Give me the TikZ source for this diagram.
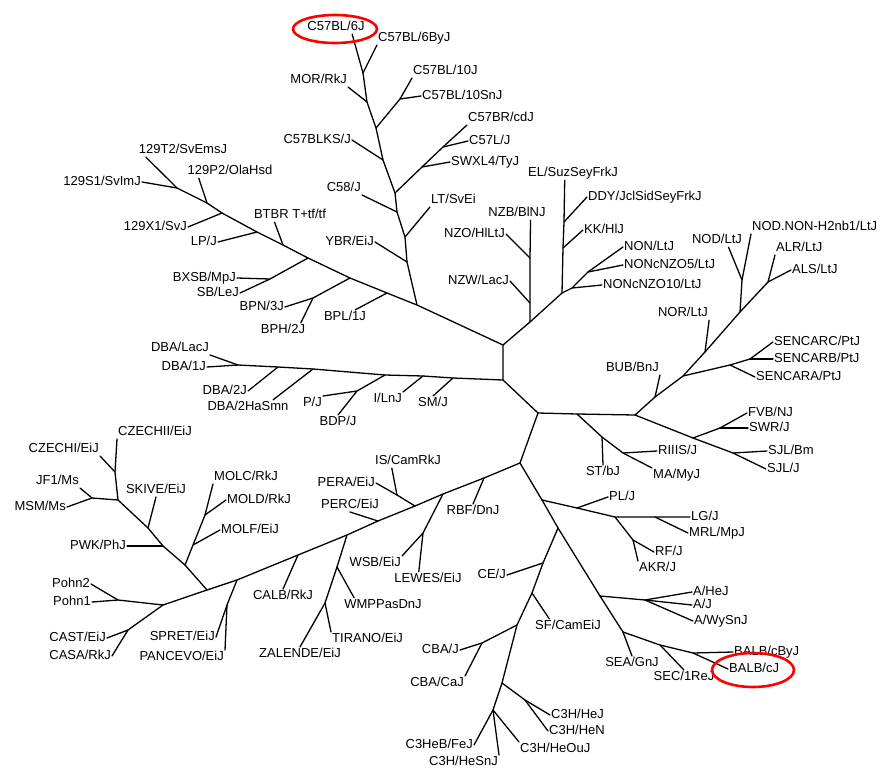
\documentclass[tikz,border=0pt]{standalone}
\usepackage{fontspec}
\setmainfont{Liberation Sans}

\begin{document}
\begin{tikzpicture}[
    x=1pt, y=-1pt,
    font=\fontsize{13}{15}\selectfont,
    lbl/.style={inner sep=1pt, text height=9.5pt, text depth=2.5pt},
    br/.style={line width=1.3pt, line cap=round, line join=round},
    ring/.style={draw=red, line width=2.6pt}
]
\useasboundingbox (0,0) rectangle (883,768);

% centre
\coordinate (ca) at (503,345);
\coordinate (cb) at (503,380);
\coordinate (cc) at (538,413);
\coordinate (cd) at (635,415);
\coordinate (ce) at (520,463);
\coordinate (jst0) at (577,414);

% C57 / 129 clade
\coordinate (j1) at (417,305);
\coordinate (jbpl) at (387,293);
\coordinate (jbpn) at (350,278);
\coordinate (jbx) at (308,258);
\coordinate (jbtbr) at (283,245);
\coordinate (jlp) at (257,232);
\coordinate (j129x) at (222,213);
\coordinate (j129p) at (207,203);
\coordinate (j129) at (177,188);
\coordinate (jsb) at (270,279);
\coordinate (jbph) at (313,298);
\coordinate (jybr) at (407,262);
\coordinate (jlt) at (405,237);
\coordinate (jc58) at (397,212);
\coordinate (jbr) at (395,193);
\coordinate (jks) at (383,160);
\coordinate (j10) at (376,128);
\coordinate (jmor) at (367,102);
\coordinate (jby) at (363,73);
\coordinate (jbr2) at (422,167);
\coordinate (jbr3) at (443,147);
\coordinate (j10b) at (400,99);

\node[lbl] (b6) at (336,27) {C57BL/6J};
\node[lbl, anchor=south west] (b6by) at (377,45) {C57BL/6ByJ};
\node[lbl, anchor=south east] (mor) at (348,87) {MOR/RkJ};
\node[lbl, anchor=south west] (c10) at (412,78) {C57BL/10J};
\node[lbl, anchor=west] (c10sn) at (421,96) {C57BL/10SnJ};
\node[lbl, anchor=east] (blks) at (352,140) {C57BLKS/J};
\node[lbl, anchor=south west] (cbr) at (467,125) {C57BR/cdJ};
\node[lbl, anchor=west] (c57l) at (468,141) {C57L/J};
\node[lbl, anchor=west] (swxl) at (450,162) {SWXL4/TyJ};
\node[lbl, anchor=south east] (c58) at (362,195) {C58/J};
\node[lbl, anchor=south west] (lt) at (430,207) {LT/SvEi};
\node[lbl, anchor=east] (ybr) at (375,242) {YBR/EiJ};
\node[lbl] (btbr) at (290,215) {BTBR T+tf/tf};
\node[lbl, anchor=east] (lp) at (218,242) {LP/J};
\node[lbl, anchor=east] (x1) at (188,227) {129X1/SvJ};
\node[lbl] (p2) at (230,171) {129P2/OlaHsd};
\node[lbl] (t2) at (183,150) {129T2/SvEmsJ};
\node[lbl, anchor=east] (s1) at (142,182) {129S1/SvImJ};
\node[lbl, anchor=east] (bxsb) at (237,278) {BXSB/MpJ};
\node[lbl, anchor=east] (sb) at (240,293) {SB/LeJ};
\node[lbl, anchor=east] (bpn) at (285,307) {BPN/3J};
\node[lbl] (bph) at (283,330) {BPH/2J};
\node[lbl] (bpl) at (345,317) {BPL/1J};

\draw[br] (ca) -- (j1) -- (jbpl) -- (jbpn) -- (jbx) -- (jbtbr) -- (jlp) -- (j129x) -- (j129p) -- (j129) -- (t2.191);
\draw[br] (j129) -- (s1.east);
\draw[br] (j129p) -- (p2.193);
\draw[br] (j129x) -- (x1.east);
\draw[br] (jlp) -- (lp.east);
\draw[br] (jbtbr) -- (btbr.205);
\draw[br] (jbx) -- (jsb) -- (sb.east);
\draw[br] (jsb) -- (bxsb.east);
\draw[br] (jbpn) -- (jbph) -- (bpn.east);
\draw[br] (jbph) -- (bph.22);
\draw[br] (jbpl) -- (bpl.35);
\draw[br] (j1) -- (jybr) -- (jlt) -- (jc58) -- (jbr) -- (jks) -- (j10) -- (jmor) -- (jby) -- (b6.-24);
\draw[br] (jybr) -- (ybr.east);
\draw[br] (jlt) -- (lt.south west);
\draw[br] (jc58) -- (c58.south east);
\draw[br] (jbr) -- (jbr2) -- (swxl.west);
\draw[br] (jbr2) -- (jbr3) -- (cbr.south west);
\draw[br] (jbr3) -- (c57l.west);
\draw[br] (jks) -- (blks.east);
\draw[br] (j10) -- (j10b) -- (c10.south west);
\draw[br] (j10b) -- (c10sn.west);
\draw[br] (jmor) -- (mor.south east);
\draw[br] (jby) -- (b6by.south west);

% NZ / NON clade
\coordinate (jnz) at (530,322);
\coordinate (jel) at (562,293);
\coordinate (jnon1) at (572,288);
\coordinate (jnon2) at (588,272);
\coordinate (jnzw) at (530,303);
\coordinate (jnzo) at (530,258);
\coordinate (jkk) at (563,248);
\coordinate (jddy) at (564,222);

\node[lbl] (nzb) at (517,213) {NZB/BlNJ};
\node[lbl, anchor=east] (nzo) at (506,234) {NZO/HlLtJ};
\node[lbl, anchor=east] (nzw) at (510,281) {NZW/LacJ};
\node[lbl] (el) at (573,173) {EL/SuzSeyFrkJ};
\node[lbl, anchor=west] (ddy) at (587,197) {DDY/JclSidSeyFrkJ};
\node[lbl, anchor=west] (kk) at (583,230) {KK/HlJ};
\node[lbl, anchor=west] (non) at (623,247) {NON/LtJ};
\node[lbl, anchor=west] (nz5) at (623,265) {NONcNZO5/LtJ};
\node[lbl, anchor=west] (nz10) at (602,285) {NONcNZO10/LtJ};

\draw[br] (ca) -- (jnz) -- (jel) -- (jnon1) -- (jnon2) -- (non.west);
\draw[br] (jnon2) -- (nz5.west);
\draw[br] (jnon1) -- (nz10.west);
\draw[br] (jnz) -- (jnzw) -- (jnzo) -- (nzb.-28);
\draw[br] (jnzw) -- (nzw.east);
\draw[br] (jnzo) -- (nzo.east);
\draw[br] (jel) -- (jkk) -- (jddy) -- (el.221);
\draw[br] (jkk) -- (kk.west);
\draw[br] (jddy) -- (ddy.west);

% NOD / SENCAR / SJL clade
\coordinate (jbub) at (655,397);
\coordinate (jsen) at (683,376);
\coordinate (jnor) at (705,352);
\coordinate (jnod) at (740,312);
\coordinate (jal) at (768,282);
\coordinate (jnod2) at (742,280);
\coordinate (jsena) at (730,365);
\coordinate (jsenb) at (750,359);
\coordinate (jfvb) at (693,438);
\coordinate (jswr) at (720,428);
\coordinate (jsjl) at (733,453);

\node[lbl] (nor) at (683,313) {NOR/LtJ};
\node[lbl, anchor=south east] (bub) at (660,375) {BUB/BnJ};
\node[lbl] (nod) at (717,240) {NOD/LtJ};
\node[lbl, anchor=south west] (nodnon) at (751,234) {NOD.NON-H2nb1/LtJ};
\node[lbl, anchor=south west] (alr) at (775,255) {ALR/LtJ};
\node[lbl, anchor=west] (als) at (791,270) {ALS/LtJ};
\node[lbl, anchor=west] (senc) at (773,342) {SENCARC/PtJ};
\node[lbl, anchor=west] (senb) at (773,359) {SENCARB/PtJ};
\node[lbl, anchor=west] (sena) at (755,377) {SENCARA/PtJ};
\node[lbl, anchor=west] (fvb) at (747,413) {FVB/NJ};
\node[lbl, anchor=west] (swr) at (748,428) {SWR/J};
\node[lbl, anchor=west] (sjlbm) at (767,451) {SJL/Bm};
\node[lbl, anchor=west] (sjl) at (766,469) {SJL/J};

\draw[br] (cd) -- (jbub) -- (jsen) -- (jnor) -- (jnod) -- (jal) -- (alr.south west);
\draw[br] (jal) -- (als.west);
\draw[br] (jnod) -- (jnod2) -- (nod.-32);
\draw[br] (jnod2) -- (nodnon.south west);
\draw[br] (jnor) -- (nor.south east);
\draw[br] (jbub) -- (bub.south east);
\draw[br] (jsen) -- (jsena) -- (jsenb) -- (senc.west);
\draw[br] (jsenb) -- (senb.west);
\draw[br] (jsena) -- (sena.west);
\draw[br] (cd) -- (jfvb) -- (jsjl) -- (sjl.west);
\draw[br] (jsjl) -- (sjlbm.west);
\draw[br] (jfvb) -- (jswr) -- (fvb.west);
\draw[br] (jswr) -- (swr.west);

% ST / RIIIS
\coordinate (jst) at (602,437);
\coordinate (jriii) at (623,453);
\node[lbl, anchor=north] (st) at (603,465) {ST/bJ};
\node[lbl, anchor=west] (riiis) at (657,451) {RIIIS/J};
\node[lbl, anchor=north west] (ma) at (652,468) {MA/MyJ};

\draw[br] (ca) -- (cb) -- (cc) -- (jst0) -- (cd);
\draw[br] (cc) -- (ce);
\draw[br] (jst0) -- (jst) -- (jriii) -- (ma.north west);
\draw[br] (jriii) -- (riiis.west);
\draw[br] (jst) -- (st.north);

% wild-derived clade
\coordinate (jrbf) at (484,478);
\coordinate (jwsb) at (443,494);
\coordinate (jis) at (415,506);
\coordinate (jperc) at (378,521);
\coordinate (jwmp) at (347,535);
\coordinate (jcalb) at (298,555);
\coordinate (jspr) at (237,580);
\coordinate (jmol) at (207,590);
\coordinate (jpohn) at (163,605);
\coordinate (jpohn2) at (118,600);
\coordinate (jcast) at (128,630);
\coordinate (jwsb2) at (423,533);
\coordinate (jis2) at (397,495);
\coordinate (jwmp2) at (337,567);
\coordinate (jtir) at (325,603);
\coordinate (jspr2) at (227,605);
\coordinate (jmoll) at (185,565);
\coordinate (jpwk) at (163,546);
\coordinate (jskive) at (148,528);
\coordinate (jcz) at (118,500);
\coordinate (jcz2) at (115,472);
\coordinate (jmsm) at (92,498);
\coordinate (jmolf) at (193,545);
\coordinate (jmold) at (205,515);

\node[lbl, anchor=north] (rbf) at (473,504) {RBF/DnJ};
\node[lbl, anchor=north east] (wsb) at (402,556) {WSB/EiJ};
\node[lbl] (lewes) at (428,579) {LEWES/EiJ};
\node[lbl] (is) at (408,461) {IS/CamRkJ};
\node[lbl, anchor=east] (pera) at (376,483) {PERA/EiJ};
\node[lbl, anchor=south] (perc) at (350,512) {PERC/EiJ};
\node[lbl] (wmp) at (383,605) {WMPPasDnJ};
\node[lbl, anchor=north west] (tir) at (331,632) {TIRANO/EiJ};
\node[lbl, anchor=north] (zal) at (300,647) {ZALENDE/EiJ};
\node[lbl, anchor=north] (calb) at (283,589) {CALB/RkJ};
\node[lbl, anchor=east] (spret) at (216,637) {SPRET/EiJ};
\node[lbl, anchor=north east] (panc) at (225,650) {PANCEVO/EiJ};
\node[lbl, anchor=west] (molf) at (220,530) {MOLF/EiJ};
\node[lbl, anchor=west] (mold) at (226,500) {MOLD/RkJ};
\node[lbl, anchor=south west] (molc) at (213,484) {MOLC/RkJ};
\node[lbl, anchor=east] (pwk) at (127,546) {PWK/PhJ};
\node[lbl, anchor=south] (skive) at (156,497) {SKIVE/EiJ};
\node[lbl, anchor=south east] (jf1) at (80,488) {JF1/Ms};
\node[lbl, anchor=east] (msm) at (67,507) {MSM/Ms};
\node[lbl, anchor=south east] (cz1) at (100,456) {CZECHI/EiJ};
\node[lbl, anchor=south west] (cz2) at (117,439) {CZECHII/EiJ};
\node[lbl, anchor=east] (cast) at (107,638) {CAST/EiJ};
\node[lbl, anchor=east] (casa) at (112,656) {CASA/RkJ};
\node[lbl, anchor=east] (pohn2) at (91,584) {Pohn2};
\node[lbl, anchor=east] (pohn1) at (92,602) {Pohn1};

\draw[br] (ce) -- (jrbf) -- (jwsb) -- (jis) -- (jperc) -- (jwmp) -- (jcalb) -- (jspr) -- (jmol) -- (jpohn) -- (jpohn2) -- (pohn1.east);
\draw[br] (jpohn2) -- (pohn2.east);
\draw[br] (jpohn) -- (jcast) -- (casa.east);
\draw[br] (jcast) -- (cast.east);
\draw[br] (jrbf) -- (rbf.north);
\draw[br] (jwsb) -- (jwsb2) -- (lewes.142);
\draw[br] (jwsb2) -- (wsb.north east);
\draw[br] (jis) -- (jis2) -- (is.204);
\draw[br] (jis2) -- (pera.east);
\draw[br] (jperc) -- (perc.south);
\draw[br] (jwmp) -- (jwmp2) -- (wmp.166);
\draw[br] (jwmp2) -- (jtir) -- (tir.north west);
\draw[br] (jtir) -- (zal.north);
\draw[br] (jcalb) -- (calb.north);
\draw[br] (jspr) -- (jspr2) -- (spret.east);
\draw[br] (jspr2) -- (panc.north east);
\draw[br] (jmol) -- (jmoll) -- (jpwk) -- (jskive) -- (jcz) -- (jcz2) -- (cz2.south west);
\draw[br] (jcz2) -- (cz1.south east);
\draw[br] (jcz) -- (jmsm) -- (msm.east);
\draw[br] (jmsm) -- (jf1.south east);
\draw[br] (jskive) -- (skive.south);
\draw[br] (jpwk) -- (pwk.east);
\draw[br] (jmoll) -- (jmolf) -- (jmold) -- (molc.south west);
\draw[br] (jmold) -- (mold.west);
\draw[br] (jmolf) -- (molf.west);

% A / BALB / C3H clade
\coordinate (jpl) at (542,500);
\coordinate (jce) at (558,528);
\coordinate (ja) at (600,596);
\coordinate (jsea) at (623,632);
\coordinate (jsec) at (660,645);
\coordinate (jbalb) at (693,653);
\coordinate (ja2) at (645,600);
\coordinate (jpl2) at (577,508);
\coordinate (jlg) at (615,517);
\coordinate (jmrl) at (655,517);
\coordinate (jrf) at (633,540);
\coordinate (jce2) at (543,563);
\coordinate (jsf) at (532,593);
\coordinate (jcba) at (517,625);
\coordinate (jcba2) at (482,643);
\coordinate (jc3h) at (502,683);
\coordinate (jc3h2) at (525,700);
\coordinate (jc3h3) at (493,710);

\node[lbl, anchor=west] (pl) at (608,497) {PL/J};
\node[lbl, anchor=west] (lg) at (690,517) {LG/J};
\node[lbl, anchor=west] (mrl) at (688,533) {MRL/MpJ};
\node[lbl, anchor=west] (rf) at (654,552) {RF/J};
\node[lbl, anchor=north west] (akr) at (638,561) {AKR/J};
\node[lbl, anchor=west] (ahe) at (692,592) {A/HeJ};
\node[lbl, anchor=west] (aj) at (692,605) {A/J};
\node[lbl, anchor=west] (awy) at (693,621) {A/WySnJ};
\node[lbl, anchor=north] (sea) at (632,656) {SEA/GnJ};
\node[lbl, anchor=north] (sec) at (684,670) {SEC/1ReJ};
\node[lbl, anchor=west] (balbby) at (733,652) {BALB/cByJ};
\node[lbl, anchor=west] (balbc) at (728,669) {BALB/cJ};
\node[lbl, anchor=east] (cej) at (507,575) {CE/J};
\node[lbl] (sf) at (568,626) {SF/CamEiJ};
\node[lbl, anchor=east] (cbaj) at (460,650) {CBA/J};
\node[lbl, anchor=north east] (cbaca) at (465,676) {CBA/CaJ};
\node[lbl, anchor=west] (hej) at (550,715) {C3H/HeJ};
\node[lbl, anchor=west] (hen) at (548,731) {C3H/HeN};
\node[lbl, anchor=north west] (heou) at (519,742) {C3H/HeOuJ};
\node[lbl, anchor=north east] (hesn) at (499,755) {C3H/HeSnJ};
\node[lbl, anchor=east] (heb) at (474,745) {C3HeB/FeJ};

\draw[br] (ce) -- (jpl) -- (jce) -- (ja) -- (jsea) -- (jsec) -- (jbalb) -- (balbc.west);
\draw[br] (jbalb) -- (balbby.west);
\draw[br] (jsec) -- (sec.north);
\draw[br] (jsea) -- (sea.north);
\draw[br] (ja) -- (ja2) -- (aj.west);
\draw[br] (ja2) -- (ahe.west);
\draw[br] (ja2) -- (awy.west);
\draw[br] (jpl) -- (jpl2) -- (jlg) -- (jmrl) -- (lg.west);
\draw[br] (jmrl) -- (mrl.west);
\draw[br] (jpl2) -- (pl.west);
\draw[br] (jlg) -- (jrf) -- (akr.north west);
\draw[br] (jrf) -- (rf.west);
\draw[br] (jce) -- (jce2) -- (jsf) -- (jcba) -- (jc3h) -- (jc3h3) -- (hesn.north east);
\draw[br] (jc3h3) -- (heb.east);
\draw[br] (jc3h3) -- (heou.north west);
\draw[br] (jc3h) -- (jc3h2) -- (hej.west);
\draw[br] (jc3h2) -- (hen.west);
\draw[br] (jcba) -- (jcba2) -- (cbaj.east);
\draw[br] (jcba2) -- (cbaca.north east);
\draw[br] (jsf) -- (sf.159);
\draw[br] (jce2) -- (cej.east);

% DBA clade
\coordinate (jsm) at (453,378);
\coordinate (jil) at (423,376);
\coordinate (jp) at (385,375);
\coordinate (jdha) at (313,369);
\coordinate (jd2) at (278,367);
\coordinate (jdlac) at (238,365);
\coordinate (jp2) at (357,391);

\node[lbl, anchor=south east] (dbalac) at (210,355) {DBA/LacJ};
\node[lbl, anchor=east] (dba1) at (207,367) {DBA/1J};
\node[lbl, anchor=east] (dba2) at (248,391) {DBA/2J};
\node[lbl] (dba2ha) at (248,407) {DBA/2HaSmn};
\node[lbl, anchor=north east] (pj) at (323,396) {P/J};
\node[lbl, anchor=north] (bdp) at (338,415) {BDP/J};
\node[lbl, anchor=north east] (il) at (403,392) {I/LnJ};
\node[lbl, anchor=north] (sm) at (433,396) {SM/J};

\draw[br] (cb) -- (jsm) -- (jil) -- (jp) -- (jdha) -- (jd2) -- (jdlac) -- (dba1.east);
\draw[br] (jdlac) -- (dbalac.south east);
\draw[br] (jd2) -- (dba2.east);
\draw[br] (jdha) -- (dba2ha.16);
\draw[br] (jp) -- (jp2) -- (pj.north east);
\draw[br] (jp2) -- (bdp.north);
\draw[br] (jil) -- (il.north east);
\draw[br] (jsm) -- (sm.north);

% highlights
\draw[ring] (335,29) ellipse [x radius=42pt, y radius=14pt];
\draw[ring] (753,670) ellipse [x radius=41pt, y radius=17pt];
\end{tikzpicture}
\end{document}
